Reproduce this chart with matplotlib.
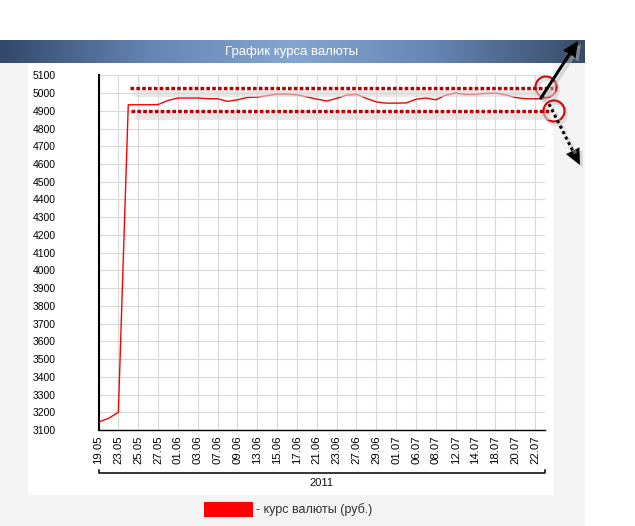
import numpy as np
import matplotlib
matplotlib.use("Agg")
import matplotlib.pyplot as plt
from matplotlib.colors import LinearSegmentedColormap
from matplotlib.patches import Rectangle, Circle, Polygon

plt.rcParams['font.family'] = ['Liberation Sans', 'DejaVu Sans']

# ---- data ----
tick_labels = ["19.05", "23.05", "25.05", "27.05", "01.06", "03.06", "07.06", "09.06",
               "13.06", "15.06", "17.06", "21.06", "23.06", "27.06", "29.06", "01.07",
               "06.07", "08.07", "12.07", "14.07", "18.07", "20.07", "22.07"]
rate = [3145, 3165, 3200, 4934, 4934, 4934, 4935, 4958, 4972, 4972,
        4972, 4968, 4968, 4953, 4962, 4975, 4977, 4985, 4994, 4994,
        4990, 4978, 4966, 4955, 4970, 4988, 4993, 4970, 4950, 4943,
        4943, 4944, 4965, 4972, 4962, 4988, 5000, 4992, 4992, 4998,
        5000, 4990, 4975, 4968, 4968, 4968]
y_ticks = list(range(3100, 5101, 100))
year_label = "2011"
title = "График курса валюты"
legend_text = "- курс валюты (руб.)"

W, H = 635, 526
fig = plt.figure(figsize=(W / 100, H / 100), dpi=100)
fig.patch.set_facecolor("white")

# background layer in pixel coordinates
bg = fig.add_axes([0, 0, 1, 1], zorder=0)
bg.set_xlim(0, W)
bg.set_ylim(H, 0)
bg.axis("off")
bg.add_patch(Rectangle((0, 63), 585, H - 63, facecolor="#f4f4f4", edgecolor="none"))
bg.add_patch(Rectangle((28, 63), 525, 432, facecolor="white", edgecolor="none"))
cmap = LinearSegmentedColormap.from_list("bar", ["#33486a", "#6484b1", "#86a6d2", "#6484b1", "#384b68"])
grad = np.linspace(0, 1, 256).reshape(1, -1)
bg.imshow(grad, cmap=cmap, extent=(0, 585, 63, 40), aspect="auto", zorder=1)
bg.text(292, 52, title, color="white", fontsize=9.5, ha="center", va="center", zorder=2)
# x-axis year bracket
bg.plot([98.5, 98.5, 545, 545], [470, 473, 473, 470], color="black", lw=1.1)
bg.text(321, 483, year_label, fontsize=8, ha="center", va="center", color="#111111")
# legend
bg.add_patch(Rectangle((204, 502), 49, 15, facecolor="#ff0000", edgecolor="none"))
bg.text(256, 510, legend_text, fontsize=9, ha="left", va="center", color="#333333")

# chart
ax = fig.add_axes([98.5 / W, 1 - 430 / H, (545 - 98.5) / W, (430 - 75.3) / H], zorder=1)
ax.set_facecolor("none")
x = np.arange(len(rate))
ax.plot(x, rate, color="#ff0000", lw=1.0, zorder=3)
ax.set_xlim(0, len(rate) - 1)
ax.set_ylim(3100, 5100)
ax.set_yticks(y_ticks)
ax.set_yticklabels([str(v) for v in y_ticks], fontsize=7.5)
ax.set_xticks(np.arange(0, 2 * len(tick_labels), 2))
ax.set_xticklabels(tick_labels, rotation=90, fontsize=8.2)
ax.tick_params(axis="y", length=0, pad=31)
ax.tick_params(axis="x", length=0, pad=4)
ax.grid(True, color="#d9d9d9", lw=0.8)
ax.set_axisbelow(True)
for s in ("top", "right"):
    ax.spines[s].set_visible(False)
ax.spines["left"].set_linewidth(1.5)
ax.spines["bottom"].set_linewidth(1.0)

# overlay annotations (pixel coordinates)
ov = fig.add_axes([0, 0, 1, 1], zorder=5)
ov.set_xlim(0, W)
ov.set_ylim(H, 0)
ov.axis("off")
ov.patch.set_alpha(0)

for yy, x0, x1 in [(88, 130, 553), (111, 131, 549)]:
    ov.plot([x0 + 4, x1 + 2], [yy + 5, yy + 5], color="#d8d8d8", lw=5, alpha=0.6, solid_capstyle="butt")
    ov.plot([x0, x1], [yy, yy], color="#b80000", lw=2.4, linestyle=(0, (1.1, 0.65)),
            dash_capstyle="butt")

for cx, cy in [(546, 87), (554, 111)]:
    ov.add_patch(Circle((cx + 2, cy + 3), 10.5, facecolor="none", edgecolor="#cccccc", lw=2, alpha=0.6))
    ov.add_patch(Circle((cx, cy), 10.5, facecolor="none", edgecolor="#cc1010", lw=1.6))


def arrow(start, tip, dotted, L=16, Wd=7.5):
    s = np.array(start, float)
    t = np.array(tip, float)
    d = (t - s) / np.linalg.norm(t - s)
    n = np.array([-d[1], d[0]])
    base = t - L * d
    # shadow
    ov.plot([s[0] + 3, base[0] + 3], [s[1] + 3, base[1] + 3], color="#bbbbbb", lw=2.5, alpha=0.5,
            linestyle=(0, (1, 1)) if dotted else "-")
    ov.add_patch(Polygon([t + 3, base + Wd * n + 3, base - Wd * n + 3], closed=True,
                         facecolor="#bbbbbb", edgecolor="none", alpha=0.5))
    ov.plot([s[0], base[0]], [s[1], base[1]], color="black", lw=2.2,
            linestyle=(0, (1, 1)) if dotted else "-", dash_capstyle="butt")
    ov.add_patch(Polygon([t, base + Wd * n, base - Wd * n], closed=True,
                         facecolor="black", edgecolor="none"))


arrow((541, 98), (578, 41), dotted=False)
arrow((549, 104), (580, 165), dotted=True)

fig.savefig("out.png", dpi=100)
